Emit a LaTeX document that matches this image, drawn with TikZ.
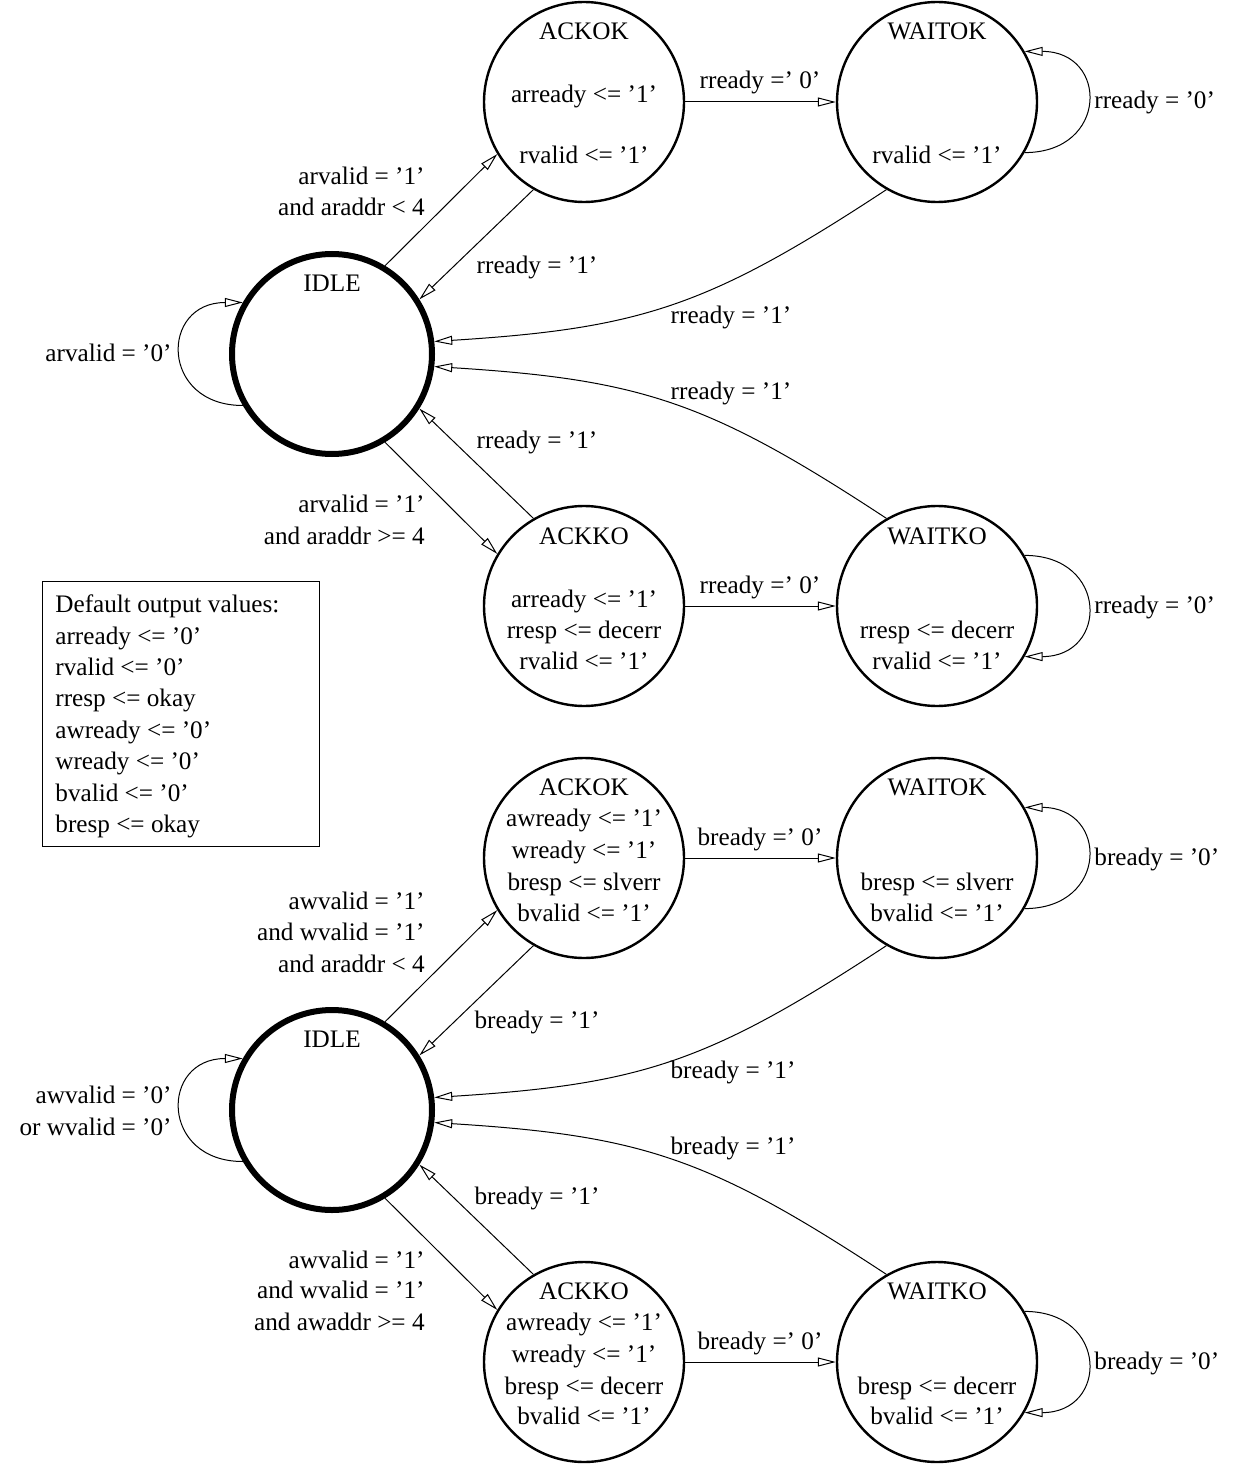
\documentclass[tikz,border=0pt]{standalone}
\usepackage{fontspec}
\setmainfont{Liberation Serif}
\usetikzlibrary{arrows.meta}

\begin{document}
\begin{tikzpicture}[x=0.5pt,y=-0.5pt,
  every node/.style={font=\fontsize{12.6}{15.5}\selectfont},
  state/.style={draw, circle, line width=1.2pt, minimum size=100pt, inner sep=0pt},
  idlestate/.style={state, line width=3pt},
  txt/.style={anchor=base, inner sep=0pt},
  lft/.style={anchor=base west, inner sep=0pt},
  rgt/.style={anchor=base east, inner sep=0pt},
  trans/.style={line width=0.5pt, -{Triangle[open,length=9pt,width=4.5pt]}},
]
\useasboundingbox (0,0) rectangle (1241,1466);

% ---------------- read channel FSM ----------------
\node[idlestate] (ridle)  at (332,354) {};
\node[state]     (rackok) at (584,102) {};
\node[state]     (rwaitok) at (937,102) {};
\node[state]     (rackko) at (584,606) {};
\node[state]     (rwaitko) at (937,606) {};

\node[txt] (ridleT) at (332,292) {IDLE};
\node[txt] (rackokT) at (584,40) {ACKOK};
\node[txt] (rackokA) at (584,103) {arready <= '1'};
\node[txt] (rackokB) at (584,164) {rvalid <= '1'};
\node[txt] (rwaitokT) at (937,40) {WAITOK};
\node[txt] (rwaitokA) at (937,164) {rvalid <= '1'};
\node[txt] (rackkoT) at (584,544) {ACKKO};
\node[txt] (rackkoA) at (584,607) {arready <= '1'};
\node[txt] (rackkoB) at (584,638) {rresp <= decerr};
\node[txt] (rackkoC) at (584,669) {rvalid <= '1'};
\node[txt] (rwaitkoT) at (937,544) {WAITKO};
\node[txt] (rwaitkoA) at (937,638) {rresp <= decerr};
\node[txt] (rwaitkoB) at (937,669) {rvalid <= '1'};

\draw[trans] (ridle.59) -- (rackok.211);
\draw[trans] (rackok.240) -- (ridle.32);
\draw[trans] (rackok) -- (rwaitok);
\draw[trans] (rwaitok.-30) .. controls +(84,0) and +(84,0) .. (rwaitok.30);
\draw[trans] (rwaitok.240) .. controls +(-178,117) and +(207,-13) .. (ridle.7);
\draw[trans] (rwaitko.120) .. controls +(-178,-117) and +(207,13) .. (ridle.-7);
\draw[trans] (rackko.120) -- (ridle.-32);
\draw[trans] (ridle.-59) -- (rackko.149);
\draw[trans] (rackko) -- (rwaitko);
\draw[trans] (rwaitko.30) .. controls +(84,0) and +(84,0) .. (rwaitko.-30);
\draw[trans] (ridle.210) .. controls +(-83,0) and +(-83,0) .. (ridle.150);

\node[rgt] (rl1a) at (425,185) {arvalid = '1'};
\node[rgt] (rl1b) at (425,216) {and araddr < 4};
\node[txt] (rl2) at (537,273) {rready = '1'};
\node[txt] (rl3) at (760,89) {rready =' 0'};
\node[lft] (rl4) at (1094,109) {rready = '0'};
\node[txt] (rl5) at (731,323) {rready = '1'};
\node[txt] (rl6) at (731,399) {rready = '1'};
\node[txt] (rl7) at (537,448) {rready = '1'};
\node[rgt] (rl8a) at (425,512) {arvalid = '1'};
\node[rgt] (rl8b) at (425,544) {and araddr >= 4};
\node[txt] (rl9) at (760,593) {rready =' 0'};
\node[lft] (rl10) at (1094,613) {rready = '0'};
\node[rgt] (rl11) at (172,361) {arvalid = '0'};

% ---------------- default outputs ----------------
\draw[line width=0.5pt] (42,581) rectangle (319,846);
\node[lft] (d0) at (55,612) {Default output values:};
\node[lft] (d1) at (55,644) {arready <= '0'};
\node[lft] (d2) at (55,675) {rvalid <= '0'};
\node[lft] (d3) at (55,706) {rresp <= okay};
\node[lft] (d4) at (55,738) {awready <= '0'};
\node[lft] (d5) at (55,769) {wready <= '0'};
\node[lft] (d6) at (55,801) {bvalid <= '0'};
\node[lft] (d7) at (55,832) {bresp <= okay};

% ---------------- write channel FSM ----------------
\node[idlestate] (widle)  at (332,1110) {};
\node[state]     (wackok) at (584,858) {};
\node[state]     (wwaitok) at (937,858) {};
\node[state]     (wackko) at (584,1362) {};
\node[state]     (wwaitko) at (937,1362) {};

\node[txt] (widleT) at (332,1047) {IDLE};
\node[txt] (wackokT) at (584,795) {ACKOK};
\node[txt] (wackokA) at (584,826) {awready <= '1'};
\node[txt] (wackokB) at (584,858) {wready <= '1'};
\node[txt] (wackokC) at (584,890) {bresp <= slverr};
\node[txt] (wackokD) at (584,921) {bvalid <= '1'};
\node[txt] (wwaitokT) at (937,795) {WAITOK};
\node[txt] (wwaitokA) at (937,890) {bresp <= slverr};
\node[txt] (wwaitokB) at (937,921) {bvalid <= '1'};
\node[txt] (wackkoT) at (584,1299) {ACKKO};
\node[txt] (wackkoA) at (584,1330) {awready <= '1'};
\node[txt] (wackkoB) at (584,1362) {wready <= '1'};
\node[txt] (wackkoC) at (584,1394) {bresp <= decerr};
\node[txt] (wackkoD) at (584,1424) {bvalid <= '1'};
\node[txt] (wwaitkoT) at (937,1299) {WAITKO};
\node[txt] (wwaitkoA) at (937,1394) {bresp <= decerr};
\node[txt] (wwaitkoB) at (937,1424) {bvalid <= '1'};

\draw[trans] (widle.59) -- (wackok.211);
\draw[trans] (wackok.240) -- (widle.32);
\draw[trans] (wackok) -- (wwaitok);
\draw[trans] (wwaitok.-30) .. controls +(84,0) and +(84,0) .. (wwaitok.30);
\draw[trans] (wwaitok.240) .. controls +(-178,117) and +(207,-13) .. (widle.7);
\draw[trans] (wwaitko.120) .. controls +(-178,-117) and +(207,13) .. (widle.-7);
\draw[trans] (wackko.120) -- (widle.-32);
\draw[trans] (widle.-59) -- (wackko.149);
\draw[trans] (wackko) -- (wwaitko);
\draw[trans] (wwaitko.30) .. controls +(84,0) and +(84,0) .. (wwaitko.-30);
\draw[trans] (widle.210) .. controls +(-83,0) and +(-83,0) .. (widle.150);

\node[rgt] (wl1a) at (425,909) {awvalid = '1'};
\node[rgt] (wl1b) at (425,940) {and wvalid = '1'};
\node[rgt] (wl1c) at (425,972) {and araddr < 4};
\node[txt] (wl2) at (537,1028) {bready = '1'};
\node[txt] (wl3) at (760,845) {bready =' 0'};
\node[lft] (wl4) at (1094,865) {bready = '0'};
\node[txt] (wl5) at (733,1078) {bready = '1'};
\node[txt] (wl6) at (733,1154) {bready = '1'};
\node[txt] (wl7) at (537,1204) {bready = '1'};
\node[rgt] (wl8a) at (425,1268) {awvalid = '1'};
\node[rgt] (wl8b) at (425,1298) {and wvalid = '1'};
\node[rgt] (wl8c) at (425,1330) {and awaddr >= 4};
\node[txt] (wl9) at (760,1349) {bready =' 0'};
\node[lft] (wl10) at (1094,1369) {bready = '0'};
\node[rgt] (wl11a) at (172,1103) {awvalid = '0'};
\node[rgt] (wl11b) at (172,1135) {or wvalid = '0'};
\end{tikzpicture}
\end{document}
